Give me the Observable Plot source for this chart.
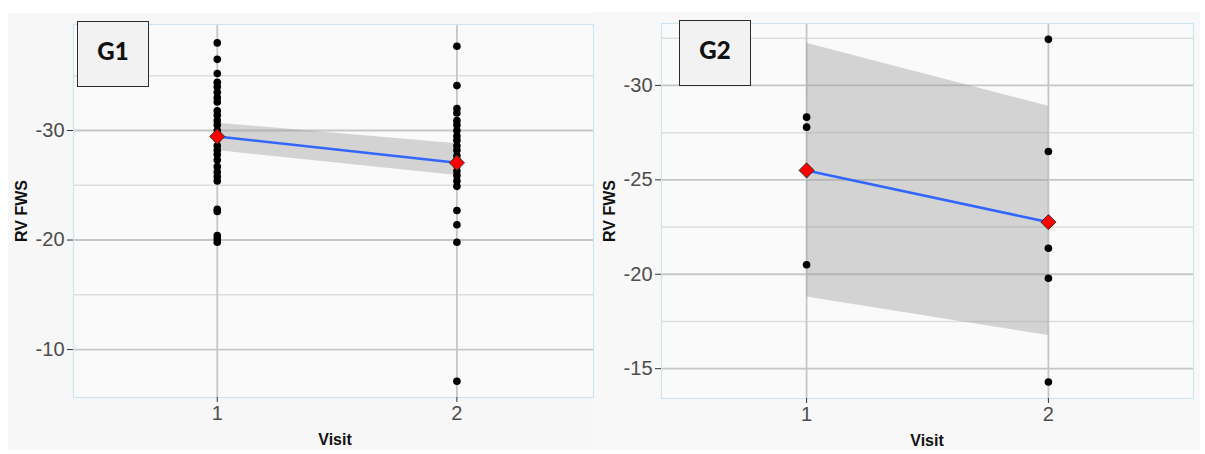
<!DOCTYPE html>
<html>
<head>
<meta charset="utf-8">
<script src="https://cdn.jsdelivr.net/npm/d3@7"></script>
<script src="https://cdn.jsdelivr.net/npm/@observablehq/plot@0.6"></script>
<style>
  html, body { margin: 0; padding: 0; background: #ffffff; }
  #wrap { position: relative; width: 1205px; height: 454px; overflow: hidden; font-family: "Liberation Sans", Arial, sans-serif; }
  .bg { position: absolute; background: #f7f7f7; }
  .svgbox { position: absolute; top: 0; }
  .svgbox svg text { font-size: 20px; fill: #4d4d4d; font-family: "Liberation Sans", Arial, sans-serif; }
  .tag { position: absolute; width: 72px; height: 66px; background: #f2f2f2; border: 1.5px solid #2b2b2b;
         font-family: Lato, "Open Sans", sans-serif; font-weight: 900; font-size: 24px; color: #111;
         display: flex; justify-content: center; align-items: flex-start; padding-top: 14px; box-sizing: border-box; }
  .ytitle { position: absolute; font-weight: bold; font-size: 16px; color: #111; transform: translate(-50%, -50%) rotate(-90deg); white-space: nowrap; }
  .xtitle { position: absolute; font-weight: bold; font-size: 16px; color: #111; transform: translate(-50%, -50%); white-space: nowrap; }
</style>
</head>
<body>
<div id="wrap">
  <div class="bg" style="left:8px; top:13px; width:585px; height:437px;"></div>
  <div class="bg" style="left:593px; top:12px; width:607px; height:438px; background:#f8f8f8;"></div>
  <div class="svgbox" id="p1" style="left:0px;"></div>
  <div class="svgbox" id="p2" style="left:593px;"></div>
</div>
<script>
// ---------- data ----------
const visits = [1, 2];
const xTickLabels = ["1", "2"];

// G1
const g1Visit1 = [-38.0, -36.5, -35.2, -34.4, -34.0, -33.5, -33.0, -32.6, -31.8, -31.4, -30.9, -30.5, -30.0,
                  -29.6, -29.2, -28.6, -28.2, -27.8, -27.3, -26.7, -26.2, -25.8, -25.4, -22.8, -22.6, -20.4, -20.1, -19.8];
const g1Visit2 = [-37.7, -34.1, -32.0, -31.6, -30.9, -30.5, -30.0, -29.5, -29.1, -28.6, -28.2, -27.7, -27.3,
                  -26.8, -26.3, -25.9, -25.4, -24.9, -22.7, -21.4, -19.8, -7.1];
const g1Mean = [-29.45, -27.05];
const g1CiUpper = [-30.67, -28.79];
const g1CiLower = [-28.17, -25.89];
const g1MajorTicks = [-30, -20, -10];
const g1MinorTicks = [-35, -25, -15];
const g1Domain = [-39.68, -5.62];

// G2
const g2Visit1 = [-28.32, -27.79, -20.5];
const g2Visit2 = [-32.44, -26.5, -21.38, -19.79, -14.29];
const g2Mean = [-25.5, -22.76];
const g2CiUpper = [-32.24, -28.9];
const g2CiLower = [-18.79, -16.76];
const g2MajorTicks = [-30, -25, -20, -15];
const g2MinorTicks = [-32.5, -27.5, -22.5, -17.5];
const g2Domain = [-33.28, -13.42];

const panels = [
  {id: "p1", tag: "G1", v1: g1Visit1, v2: g1Visit2, mean: g1Mean, up: g1CiUpper, lo: g1CiLower,
   major: g1MajorTicks, minor: g1MinorTicks, ydom: g1Domain, xdom: [0.4, 2.57],
   width: 595, ml: 73, mr: 2, mt: 24, mb: 57,
   tagPos: [77, 21], yt: [22, 211], xt: [335, 440]},
  {id: "p2", tag: "G2", v1: g2Visit1, v2: g2Visit2, mean: g2Mean, up: g2CiUpper, lo: g2CiLower,
   major: g2MajorTicks, minor: g2MinorTicks, ydom: g2Domain, xdom: [0.4, 2.6],
   width: 612, ml: 68, mr: 12, mt: 23, mb: 56,
   tagPos: [679, 20], yt: [610, 211], xt: [927, 441]}
];

const wrap = document.getElementById("wrap");

for (const p of panels) {
  const pts = [
    ...p.v1.map(v => ({visit: visits[0], value: v})),
    ...p.v2.map(v => ({visit: visits[1], value: v}))
  ];
  const summary = visits.map((v, i) => ({visit: v, mean: p.mean[i], up: p.up[i], lo: p.lo[i]}));

  const chart = Plot.plot({
    width: p.width,
    height: 454,
    marginLeft: p.ml, marginRight: p.mr, marginTop: p.mt, marginBottom: p.mb,
    style: {background: "transparent", fontFamily: "'Liberation Sans', Arial, sans-serif", fontSize: "20px"},
    x: {domain: p.xdom, axis: null},
    y: {domain: p.ydom, reverse: true, axis: null},
    marks: [
      Plot.frame({fill: "#fafafa", stroke: null}),
      Plot.ruleY(p.minor, {stroke: "#dddddd", strokeWidth: 1.5}),
      Plot.ruleY(p.major, {stroke: "#c6c6c6", strokeWidth: 1.8}),
      Plot.ruleX(visits, {stroke: "#c6c6c6", strokeWidth: 1.8}),
      Plot.areaY(summary, {x: "visit", y1: "up", y2: "lo", fill: "#999999", fillOpacity: 0.4}),
      Plot.line(summary, {x: "visit", y: "mean", stroke: "#3366ff", strokeWidth: 2.6}),
      Plot.dot(pts, {x: "visit", y: "value", r: 3.8, fill: "#000000", stroke: null}),
      Plot.dot(summary, {x: "visit", y: "mean", symbol: "diamond2", r: 6.8, fill: "#ff0000", stroke: "#333333", strokeWidth: 1}),
      Plot.frame({stroke: "#cfe4f1", strokeWidth: 1.2}),
      Plot.axisY(p.major, {tickSize: 6, tickPadding: 3, fontSize: 20, stroke: "#333333", fill: "#4d4d4d",
                            label: null, tickFormat: d => String(d)}),
      Plot.axisX(visits, {tickSize: 5, tickPadding: 3, fontSize: 20, stroke: "#333333", fill: "#4d4d4d",
                           label: null, tickFormat: (d, i) => xTickLabels[i]})
    ]
  });
  document.getElementById(p.id).appendChild(chart);

  const tag = document.createElement("div");
  tag.className = "tag";
  tag.style.left = p.tagPos[0] + "px";
  tag.style.top = p.tagPos[1] + "px";
  tag.textContent = p.tag;
  wrap.appendChild(tag);

  const yt = document.createElement("div");
  yt.className = "ytitle";
  yt.style.left = p.yt[0] + "px";
  yt.style.top = p.yt[1] + "px";
  yt.textContent = "RV FWS";
  wrap.appendChild(yt);

  const xt = document.createElement("div");
  xt.className = "xtitle";
  xt.style.left = p.xt[0] + "px";
  xt.style.top = p.xt[1] + "px";
  xt.textContent = "Visit";
  wrap.appendChild(xt);
}
</script>
</body>
</html>
